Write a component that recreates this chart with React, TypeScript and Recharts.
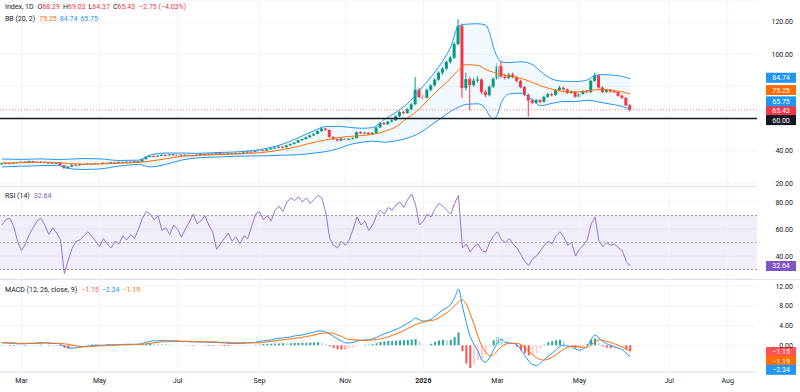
import React from 'react';
import {
  ComposedChart,
  Bar,
  Line,
  Area,
  XAxis,
  YAxis,
  CartesianGrid,
  ReferenceLine,
  ReferenceArea,
  Cell,
} from 'recharts';

// Candles, Feb 2025 – Jun 2026 (each candle = two sessions)
const opens = [
  31.8, 32.1, 32.4, 32.0, 32.6, 32.9, 33.3, 33.0, 33.6, 33.2,
  32.8, 33.1, 32.5, 32.7, 32.2, 32.4, 31.0, 29.4, 30.2, 31.3,
  31.0, 31.8, 31.6, 32.1, 31.9, 32.3, 32.2, 32.6, 32.4, 32.9,
  32.7, 33.1, 32.8, 33.3, 33.0, 33.5, 33.2, 34.8, 36.2, 36.8,
  36.4, 37.0, 37.5, 37.2, 37.8, 37.4, 37.6, 37.1, 37.5, 37.2,
  37.0, 37.6, 38.0, 37.7, 38.3, 38.0, 38.6, 38.2, 38.0, 38.5,
  38.1, 38.7, 38.4, 39.0, 39.5, 39.2, 39.8, 40.4, 40.1, 40.9,
  41.5, 42.0, 42.6, 42.2, 43.4, 44.2, 45.1, 46.6, 47.3, 48.4,
  49.6, 50.5, 52.2, 53.8, 53.0, 48.6, 47.2, 46.3, 47.5, 46.8,
  47.4, 47.9, 51.6, 50.8, 51.3, 50.4, 51.2, 54.5, 57.2, 56.5,
  58.1, 58.9, 61.5, 64.0, 63.4, 65.8, 68.9, 78.0, 73.4, 73.0,
  77.9, 80.6, 84.2, 88.5, 91.0, 95.2, 97.8, 106.3, 117.5, 79.0,
  84.5, 80.8, 83.6, 84.3, 76.5, 74.6, 79.8, 84.7, 92.5, 86.0,
  85.2, 87.4, 85.8, 83.4, 79.6, 74.8, 71.2, 69.8, 71.5, 70.4,
  73.5, 75.2, 74.6, 77.8, 79.2, 78.1, 75.9, 76.8, 73.6, 75.4,
  77.0, 76.4, 83.5, 86.8, 79.3, 76.6, 77.9, 76.8, 76.5, 74.2,
  72.9, 68.29,
];
const highs = [
  32.5, 32.7, 32.6, 32.8, 33.2, 33.7, 33.5, 33.9, 33.8, 33.4,
  33.4, 33.2, 33.0, 32.9, 32.7, 32.5, 31.2, 30.5, 31.6, 31.5,
  32.0, 32.0, 32.3, 32.2, 32.5, 32.5, 32.8, 32.7, 33.1, 33.0,
  33.3, 33.2, 33.5, 33.4, 33.7, 33.6, 35.0, 36.5, 37.1, 37.0,
  37.2, 37.8, 37.7, 38.0, 37.9, 37.9, 37.7, 37.7, 37.6, 37.3,
  37.8, 38.2, 38.1, 38.5, 38.4, 38.8, 38.7, 38.3, 38.7, 38.6,
  38.9, 38.8, 39.2, 39.7, 39.6, 40.0, 40.6, 40.5, 41.1, 41.7,
  42.3, 42.9, 42.8, 43.7, 44.5, 45.4, 46.9, 47.6, 48.8, 50.0,
  50.9, 52.6, 54.6, 54.2, 53.2, 49.1, 47.6, 47.9, 47.8, 47.8,
  48.3, 52.0, 52.1, 51.7, 51.5, 51.6, 54.9, 57.7, 57.9, 58.6,
  59.6, 62.0, 64.6, 64.9, 66.4, 69.6, 85.8, 79.2, 75.0, 78.6,
  81.4, 85.0, 89.4, 92.0, 96.0, 99.0, 107.5, 121.7, 119.0, 88.6,
  86.0, 85.4, 86.2, 85.0, 78.0, 80.6, 85.6, 94.5, 96.2, 88.0,
  88.3, 88.6, 86.5, 84.0, 80.2, 75.6, 72.4, 72.3, 72.0, 74.2,
  76.0, 76.2, 78.4, 80.4, 79.8, 78.6, 77.6, 77.2, 76.0, 77.6,
  77.8, 84.2, 88.5, 87.2, 80.0, 78.5, 78.3, 77.8, 77.0, 75.0,
  73.4, 69.03,
];
const lows = [
  31.6, 31.9, 31.7, 31.9, 32.4, 32.7, 32.8, 32.9, 33.0, 32.6,
  32.6, 32.3, 32.3, 32.0, 32.0, 30.7, 28.7, 29.1, 30.0, 30.7,
  30.9, 31.3, 31.5, 31.7, 31.8, 32.0, 32.1, 32.2, 32.3, 32.5,
  32.6, 32.6, 32.7, 32.8, 32.9, 33.0, 33.1, 34.6, 36.0, 36.1,
  36.3, 36.9, 37.0, 37.1, 37.2, 37.3, 36.9, 37.0, 37.0, 36.8,
  36.9, 37.5, 37.5, 37.6, 37.8, 37.9, 38.0, 37.8, 37.9, 37.9,
  38.0, 38.2, 38.3, 38.9, 39.0, 39.1, 39.7, 39.9, 40.0, 40.8,
  41.3, 41.8, 41.9, 42.1, 43.2, 44.0, 44.9, 46.2, 47.0, 48.1,
  49.2, 50.3, 52.0, 52.4, 48.2, 46.8, 45.9, 46.1, 46.5, 46.6,
  47.0, 47.7, 50.4, 50.5, 49.8, 50.1, 51.0, 54.2, 56.0, 56.2,
  57.6, 58.5, 61.0, 62.6, 63.0, 65.3, 68.2, 72.6, 71.8, 72.5,
  77.0, 80.0, 83.5, 87.2, 90.2, 94.0, 97.0, 105.5, 72.8, 77.5,
  65.3, 79.6, 82.4, 75.2, 73.4, 73.8, 79.0, 84.0, 85.4, 84.2,
  84.6, 85.0, 82.6, 78.8, 73.9, 61.2, 68.8, 69.2, 69.5, 70.0,
  72.9, 73.8, 74.2, 77.2, 77.4, 75.2, 75.3, 73.0, 73.1, 74.8,
  75.8, 76.0, 82.8, 78.6, 75.9, 76.0, 76.1, 76.0, 73.6, 72.3,
  67.8, 64.37,
];
const closes = [
  32.1, 32.4, 32.0, 32.6, 32.9, 33.3, 33.0, 33.6, 33.2, 32.8,
  33.1, 32.5, 32.7, 32.2, 32.4, 31.0, 29.4, 30.2, 31.3, 31.0,
  31.8, 31.6, 32.1, 31.9, 32.3, 32.2, 32.6, 32.4, 32.9, 32.7,
  33.1, 32.8, 33.3, 33.0, 33.5, 33.2, 34.8, 36.2, 36.8, 36.4,
  37.0, 37.5, 37.2, 37.8, 37.4, 37.6, 37.1, 37.5, 37.2, 37.0,
  37.6, 38.0, 37.7, 38.3, 38.0, 38.6, 38.2, 38.0, 38.5, 38.1,
  38.7, 38.4, 39.0, 39.5, 39.2, 39.8, 40.4, 40.1, 40.9, 41.5,
  42.0, 42.6, 42.2, 43.4, 44.2, 45.1, 46.6, 47.3, 48.4, 49.6,
  50.5, 52.2, 53.8, 53.0, 48.6, 47.2, 46.3, 47.5, 46.8, 47.4,
  47.9, 51.6, 50.8, 51.3, 50.4, 51.2, 54.5, 57.2, 56.5, 58.1,
  58.9, 61.5, 64.0, 63.4, 65.8, 68.9, 78.0, 73.4, 73.0, 77.9,
  80.6, 84.2, 88.5, 91.0, 95.2, 97.8, 106.3, 117.5, 79.0, 84.5,
  80.8, 83.6, 84.3, 76.5, 74.6, 79.8, 84.7, 92.5, 86.0, 85.2,
  87.4, 85.8, 83.4, 79.6, 74.8, 71.2, 69.8, 71.5, 70.4, 73.5,
  75.2, 74.6, 77.8, 79.2, 78.1, 75.9, 76.8, 73.6, 75.4, 77.0,
  76.4, 83.5, 86.8, 79.3, 76.6, 77.9, 76.8, 76.5, 74.2, 72.9,
  68.18, 65.43,
];

// Bollinger Bands (20, 2), sampled at these candle indices
const bbAt = [
  0, 5, 10, 14, 17, 21, 25, 30, 35, 38,
  42, 46, 50, 55, 60, 64, 68, 72, 76, 80,
  83, 86, 89, 92, 95, 98, 101, 104, 107, 110,
  113, 115, 117, 119, 122, 124, 125, 126, 127, 128,
  130, 133, 136, 138, 141, 144, 147, 150, 152, 154,
  157, 159, 161,
];
const bbUpper = [
  34.9, 34.7, 35.0, 34.6, 34.8, 35.2, 35.0, 34.0, 34.2, 37.4,
  38.6, 38.6, 38.4, 38.9, 39.3, 40.1, 41.6, 44.2, 48.2, 52.4,
  55.1, 55.2, 54.6, 54.0, 54.4, 59.5, 64.0, 69.5, 77.5, 86.0,
  96.0, 104.5, 117.5, 118.6, 118.9, 118.0, 113.0, 104.0, 98.0, 95.2,
  94.8, 95.3, 93.5, 89.5, 84.5, 83.2, 83.0, 84.0, 86.8, 87.3,
  86.9, 86.2, 84.74,
];
const bbMiddle = [
  32.4, 32.6, 32.9, 32.8, 32.1, 31.7, 31.8, 32.3, 32.8, 33.6,
  35.0, 36.6, 37.1, 37.6, 38.0, 38.5, 39.3, 40.8, 42.8, 45.3,
  46.8, 48.1, 48.9, 49.4, 50.2, 52.0, 55.0, 60.5, 66.0, 73.6,
  80.5, 85.0, 90.2, 93.5, 93.0, 90.5, 89.5, 88.8, 88.0, 87.4,
  86.3, 85.0, 82.4, 80.5, 78.2, 76.8, 76.4, 77.2, 77.9, 78.0,
  77.4, 76.6, 75.25,
];
const bbLower = [
  30.0, 30.4, 30.8, 31.0, 29.0, 28.4, 28.7, 30.5, 31.5, 30.0,
  31.6, 34.2, 35.6, 36.1, 36.6, 36.8, 36.9, 37.3, 37.6, 38.6,
  39.5, 41.2, 43.8, 45.2, 46.0, 45.3, 46.2, 48.0, 51.0, 56.0,
  61.0, 64.5, 67.0, 68.8, 69.2, 65.8, 61.5, 59.8, 62.5, 70.0,
  75.3, 75.8, 71.5, 68.0, 69.5, 70.6, 70.6, 71.4, 70.8, 69.8,
  68.6, 67.5, 65.75,
];

// RSI (14)
const rsi = [
  63, 67, 68, 62, 51, 44, 49, 56, 61, 66,
  68, 63, 56, 61, 57, 52, 27, 37, 46, 51,
  52, 55, 58, 55, 51, 47, 53, 49, 46, 51,
  49, 55, 52, 56, 53, 60, 68, 73, 71, 67,
  70, 59, 61, 56, 63, 60, 54, 60, 65, 71,
  64, 66, 70, 63, 58, 45, 49, 53, 57, 51,
  54, 49, 55, 53, 62, 71, 73, 67, 70, 66,
  74, 77, 73, 80, 83, 81, 84, 80, 83, 79,
  82, 85, 83, 72, 53, 48, 46, 51, 48, 52,
  60, 69, 63, 66, 59, 63, 70, 74, 71, 76,
  74, 78, 80, 76, 82, 86, 78, 63, 66, 71,
  69, 75, 79, 77, 74, 71, 79, 85, 46, 49,
  43, 47, 49, 44, 43, 50, 55, 58, 52, 50,
  53, 49, 46, 41, 36, 33, 38, 40, 44, 48,
  51, 49, 55, 58, 54, 48, 50, 40, 45, 48,
  52, 64, 69, 51, 47, 50, 48, 49, 46, 44,
  36, 32.64,
];

// MACD (12, 26, close, 9)
const macdLine = [
  0.5, 0.5, 0.4, 0.4, 0.3, 0.3, 0.3, 0.4, 0.4, 0.5,
  0.5, 0.5, 0.4, 0.4, 0.4, 0.2, -0.2, -0.5, -0.6, -0.5,
  -0.4, -0.3, -0.2, -0.1, 0.0, 0.0, 0.0, 0.1, 0.1, 0.1,
  0.1, 0.2, 0.2, 0.2, 0.2, 0.2, 0.4, 0.6, 0.8, 0.9,
  0.9, 1.0, 1.0, 0.9, 0.9, 0.9, 0.8, 0.8, 0.7, 0.7,
  0.7, 0.7, 0.7, 0.6, 0.6, 0.6, 0.5, 0.5, 0.4, 0.4,
  0.4, 0.4, 0.4, 0.5, 0.5, 0.6, 0.8, 0.9, 1.0, 1.1,
  1.3, 1.4, 1.5, 1.6, 1.7, 1.9, 2.0, 2.1, 2.3, 2.5,
  2.7, 2.9, 2.9, 2.7, 2.3, 1.8, 1.3, 0.9, 0.5, 0.5,
  0.6, 0.9, 1.0, 1.1, 1.1, 1.3, 1.6, 2.0, 2.3, 2.6,
  2.9, 3.2, 3.6, 4.0, 4.5, 5.0, 5.5, 5.2, 4.9, 5.0,
  5.3, 5.9, 6.6, 7.2, 7.6, 8.3, 9.6, 11.4, 8.0, 4.6,
  1.8, 0.2, -1.2, -3.0, -3.4, -2.4, -0.9, 0.6, 1.2, 0.6,
  0.5, 0.4, 0.1, -0.9, -2.1, -3.2, -3.9, -4.1, -3.6, -2.9,
  -2.2, -1.6, -0.9, -0.2, 0.0, -0.2, -0.3, -0.8, -1.0, -0.7,
  -0.2, 1.2, 2.1, 1.5, 0.8, 0.3, 0.0, -0.3, -0.6, -0.9,
  -1.6, -2.34,
];
const signalLine = [
  0.5, 0.5, 0.5, 0.5, 0.4, 0.4, 0.4, 0.4, 0.4, 0.4,
  0.4, 0.5, 0.5, 0.4, 0.4, 0.4, 0.3, 0.2, 0.0, -0.1,
  -0.2, -0.3, -0.3, -0.2, -0.2, -0.1, -0.1, 0.0, 0.0, 0.0,
  0.1, 0.1, 0.1, 0.1, 0.2, 0.2, 0.2, 0.3, 0.4, 0.5,
  0.6, 0.7, 0.7, 0.8, 0.8, 0.8, 0.8, 0.8, 0.8, 0.8,
  0.7, 0.7, 0.7, 0.7, 0.7, 0.7, 0.6, 0.6, 0.6, 0.5,
  0.5, 0.5, 0.5, 0.5, 0.5, 0.5, 0.5, 0.6, 0.7, 0.8,
  0.9, 1.0, 1.1, 1.2, 1.3, 1.4, 1.5, 1.6, 1.8, 1.9,
  2.1, 2.3, 2.4, 2.5, 2.5, 2.4, 2.1, 1.8, 1.4, 1.2,
  1.1, 1.1, 1.0, 1.0, 1.0, 1.1, 1.2, 1.3, 1.5, 1.7,
  2.0, 2.3, 2.6, 3.0, 3.4, 3.8, 4.2, 4.5, 4.7, 4.9,
  5.0, 5.2, 5.6, 6.1, 6.6, 7.2, 8.0, 8.8, 9.2, 8.3,
  6.4, 4.2, 1.8, -0.2, -1.4, -2.1, -1.9, -1.1, -0.3, 0.2,
  0.4, 0.4, 0.4, 0.1, -0.5, -1.2, -1.9, -2.5, -2.9, -3.0,
  -2.8, -2.4, -1.9, -1.3, -0.8, -0.4, -0.2, -0.2, -0.3, -0.4,
  -0.4, 0.1, 0.7, 1.1, 1.0, 0.8, 0.6, 0.3, 0.0, -0.4,
  -0.8, -1.19,
];
const histogram = [
  0.05, 0.02, -0.08, -0.12, -0.1, -0.06, -0.09, 0.03, 0.02, 0.08,
  0.09, 0.03, -0.07, -0.02, -0.04, -0.22, -0.48, -0.66, -0.58, -0.41,
  -0.21, 0.02, 0.12, 0.14, 0.17, 0.13, 0.1, 0.09, 0.07, 0.06,
  0.03, 0.06, 0.08, 0.05, 0.02, 0.03, 0.18, 0.3, 0.38, 0.36,
  0.31, 0.27, 0.24, 0.14, 0.1, 0.07, 0.02, -0.03, -0.06, -0.08,
  -0.04, -0.03, -0.05, -0.08, -0.1, -0.09, -0.11, -0.12, -0.14, -0.11,
  -0.1, -0.08, -0.06, -0.02, 0.03, 0.09, 0.22, 0.28, 0.3, 0.31,
  0.36, 0.38, 0.4, 0.39, 0.42, 0.46, 0.48, 0.5, 0.52, 0.56,
  0.58, 0.6, 0.52, 0.24, -0.18, -0.55, -0.78, -0.88, -0.9, -0.72,
  -0.5, -0.22, 0.02, 0.1, 0.12, 0.2, 0.4, 0.66, 0.78, 0.86,
  0.88, 0.9, 0.96, 1.02, 1.08, 1.16, 1.28, 0.72, 0.22, 0.12,
  0.3, 0.68, 0.98, 1.12, 1.02, 1.14, 1.62, 2.58, -1.2, -3.7,
  -4.6, -4.0, -3.0, -2.8, -2.0, -0.3, 1.0, 1.7, 1.5, 0.4,
  0.12, 0.02, -0.3, -1.0, -1.6, -2.0, -2.0, -1.6, -0.7, 0.1,
  0.6, 0.8, 1.0, 1.1, 0.8, 0.2, -0.1, -0.6, -0.7, -0.3,
  0.2, 1.1, 1.4, 0.4, -0.2, -0.5, -0.6, -0.6, -0.6, -0.5,
  -0.8, -1.15,
];

// time axis: slot index of each month label
const monthSlots = [5, 25, 45, 66, 88, 108, 127, 148, 171, 186];
const monthNames = ['Mar', 'May', 'Jul', 'Sep', 'Nov', '2026', 'Mar', 'May', 'Jul', 'Aug'];

const levelLine = 60;

const SLOTS = 194;
const WIDTH = 800;
const AXIS_W = 43;
const FONT = 'Roboto, "Noto Sans", sans-serif';

const UP = '#089981';
const DOWN = '#F23645';
const BLUE = '#2196F3';
const ORANGE = '#FF6D00';
const PURPLE = '#7E57C2';
const RSI_LINE = '#9575CD';
const GRID = '#f0f3fa';
const TEXT = '#131722';
const SEP = '#e0e3eb';

const rows = Array.from({ length: SLOTS }, (_, i) => {
  const row: any = { i };
  if (i < closes.length) {
    row.o = opens[i];
    row.h = highs[i];
    row.l = lows[i];
    row.c = closes[i];
    row.range = [lows[i], highs[i]];
    row.rsi = rsi[i];
    row.macd = macdLine[i];
    row.signal = signalLine[i];
    row.hist = histogram[i];
  }
  const b = bbAt.indexOf(i);
  if (b >= 0) {
    row.bbU = bbUpper[b];
    row.bbM = bbMiddle[b];
    row.bbL = bbLower[b];
    row.band = [bbLower[b], bbUpper[b]];
  }
  return row;
});

const histColor = (k: number) => {
  const v = histogram[k];
  const prev = k > 0 ? histogram[k - 1] : v;
  if (v >= 0) return v >= prev ? '#26A69A' : '#B2DFDB';
  return v < prev ? '#FF5252' : '#FFCDD2';
};

const last = closes.length - 1;
const change = closes[last] - closes[last - 1];
const changePct = (change / closes[last - 1]) * 100;
const fmt = (v: number) => v.toFixed(2);
const fmtSigned = (v: number) => (v < 0 ? '\u2212' + Math.abs(v).toFixed(2) : v.toFixed(2));

const Candle = (props: any) => {
  const { x, y, width, height, payload } = props;
  if (!payload || payload.o == null) return null;
  const { o, h, l, c } = payload;
  const top = Math.min(y, y + height);
  const span = Math.abs(height);
  const toY = (v: number) => top + ((h - v) / (h - l || 1)) * span;
  const color = c >= o ? UP : DOWN;
  const cx = x + width / 2;
  const bodyTop = toY(Math.max(o, c));
  const bodyH = Math.max(1, toY(Math.min(o, c)) - bodyTop);
  return (
    <g>
      <line x1={cx} x2={cx} y1={top} y2={top + span} stroke={color} strokeWidth={1} />
      <rect x={x} y={bodyTop} width={width} height={bodyH} fill={color} />
    </g>
  );
};

const Tag = ({ viewBox, text, color, shift = 0 }: any) => {
  if (!viewBox) return null;
  const x = viewBox.x + viewBox.width + 9;
  const y = viewBox.y + shift;
  return (
    <g>
      <rect x={x} y={y - 5} width={30} height={10} fill={color} />
      <text x={x + 15} y={y + 2.5} fontSize={7} fill="#ffffff" textAnchor="middle">
        {text}
      </text>
    </g>
  );
};

const AxisTick = ({ x, y, payload, skip = [] }: any) =>
  skip.includes(payload.value) ? (
    <g />
  ) : (
    <text x={x + 28} y={y + 2.5} fontSize={7} fill={TEXT} textAnchor="end">
      {fmt(payload.value)}
    </text>
  );

const MonthTick = ({ x, y, payload }: any) => {
  const k = monthSlots.indexOf(payload.value);
  if (k < 0) return <g />;
  const name = monthNames[k];
  return (
    <text x={x} y={y + 3} fontSize={7} fill={TEXT} textAnchor="middle" fontWeight={name === '2026' ? 700 : 400}>
      {name}
    </text>
  );
};

const monthGrid = () =>
  monthSlots.map((s) => <ReferenceLine key={'m' + s} x={s} stroke={GRID} strokeWidth={1} />);

const margin = { top: 0, right: 0, bottom: 0, left: 0 };

const Legend: React.FC<{ top: number; children: React.ReactNode }> = ({ top, children }) => (
  <div
    style={{
      position: 'absolute',
      left: 5,
      top,
      fontSize: 7,
      lineHeight: '9px',
      color: TEXT,
      whiteSpace: 'nowrap',
    }}
  >
    {children}
  </div>
);

const Val: React.FC<{ color: string; children: React.ReactNode; gap?: number }> = ({ color, children, gap = 3 }) => (
  <span style={{ color, marginLeft: gap }}>{children}</span>
);

const lineProps = {
  dot: false,
  activeDot: false,
  strokeWidth: 1,
  isAnimationActive: false,
} as const;

export default function App() {
  return (
    <div
      style={{
        position: 'absolute',
        left: 0,
        top: 0,
        width: WIDTH,
        height: 392,
        background: '#ffffff',
        fontFamily: FONT,
        overflow: 'hidden',
      }}
    >
      {/* price pane; the extra bottom margin leaves room for the lowest axis label */}
      <ComposedChart width={WIDTH} height={189} data={rows} margin={{ ...margin, bottom: 3 }}>
        <CartesianGrid vertical={false} stroke={GRID} />
        {monthGrid()}
        <XAxis dataKey="i" scale="band" hide />
        <YAxis
          orientation="right"
          width={AXIS_W}
          domain={[18.14, 133.66]}
          ticks={[20, 40, 60, 80, 100, 120]}
          interval={0}
          allowDataOverflow
          axisLine={false}
          tickLine={false}
          tick={<AxisTick skip={[60, 80]} />}
        />
        <Area
          dataKey="band"
          type="monotone"
          connectNulls
          stroke="none"
          fill={BLUE}
          fillOpacity={0.06}
          dot={false}
          activeDot={false}
          isAnimationActive={false}
        />
        <Line dataKey="bbU" type="monotone" connectNulls stroke={BLUE} {...lineProps} />
        <Line dataKey="bbL" type="monotone" connectNulls stroke={BLUE} {...lineProps} />
        <Line dataKey="bbM" type="monotone" connectNulls stroke={ORANGE} {...lineProps} />
        <Bar dataKey="range" barSize={3} shape={<Candle />} activeBar={false} isAnimationActive={false} />
        <ReferenceLine
          y={closes[last]}
          stroke={DOWN}
          strokeOpacity={0.6}
          strokeDasharray="1 2"
          label={<Tag text={fmt(closes[last])} color={DOWN} shift={1} />}
        />
        <ReferenceLine
          y={levelLine}
          stroke={TEXT}
          strokeWidth={1.5}
          label={<Tag text={fmt(levelLine)} color={TEXT} shift={1.5} />}
        />
        <ReferenceLine y={bbUpper[bbUpper.length - 1]} stroke="none" label={<Tag text={fmt(bbUpper[bbUpper.length - 1])} color={BLUE} shift={-1} />} />
        <ReferenceLine y={bbMiddle[bbMiddle.length - 1]} stroke="none" label={<Tag text={fmt(bbMiddle[bbMiddle.length - 1])} color={ORANGE} shift={-4} />} />
        <ReferenceLine y={bbLower[bbLower.length - 1]} stroke="none" label={<Tag text={fmt(bbLower[bbLower.length - 1])} color={BLUE} shift={-8} />} />
      </ComposedChart>

      {/* RSI pane */}
      <div style={{ position: 'absolute', left: 0, top: 186 }}>
        <ComposedChart width={WIDTH} height={93} data={rows} margin={margin}>
          <CartesianGrid vertical={false} stroke={GRID} />
          {monthGrid()}
          <XAxis dataKey="i" scale="band" hide />
          <YAxis
            orientation="right"
            width={AXIS_W}
            domain={[23.0, 91.9]}
            ticks={[40, 60, 80]}
            interval={0}
            allowDataOverflow
            axisLine={false}
            tickLine={false}
            tick={<AxisTick />}
          />
          <ReferenceArea y1={30} y2={70} fill={PURPLE} fillOpacity={0.1} stroke="none" />
          <ReferenceLine y={70} stroke="#787B86" strokeOpacity={0.8} strokeDasharray="2 2" />
          <ReferenceLine y={50} stroke="#787B86" strokeOpacity={0.6} strokeDasharray="2 2" />
          <ReferenceLine y={30} stroke="#787B86" strokeOpacity={0.8} strokeDasharray="2 2" />
          <Line dataKey="rsi" type="linear" stroke={RSI_LINE} {...lineProps} />
          <ReferenceLine y={rsi[last]} stroke="none" label={<Tag text={fmt(rsi[last])} color={PURPLE} />} />
        </ComposedChart>
      </div>

      {/* MACD pane with the time axis */}
      <div style={{ position: 'absolute', left: 0, top: 279 }}>
        <ComposedChart width={WIDTH} height={113} data={rows} margin={margin}>
          <CartesianGrid vertical={false} stroke={GRID} />
          {monthGrid()}
          <XAxis
            dataKey="i"
            scale="band"
            height={20}
            ticks={monthSlots}
            interval={0}
            tick={<MonthTick />}
            tickLine={false}
            axisLine={{ stroke: SEP }}
          />
          <YAxis
            orientation="right"
            width={AXIS_W}
            domain={[-5.42, 13.45]}
            ticks={[0, 4, 8, 12]}
            interval={0}
            allowDataOverflow
            axisLine={false}
            tickLine={false}
            tick={<AxisTick />}
          />
          <Bar dataKey="hist" barSize={2} activeBar={false} isAnimationActive={false}>
            {rows.map((r, k) => (
              <Cell key={k} fill={r.hist != null ? histColor(k) : 'transparent'} />
            ))}
          </Bar>
          <Line dataKey="macd" type="monotone" stroke={BLUE} {...lineProps} />
          <Line dataKey="signal" type="monotone" stroke={ORANGE} {...lineProps} />
          <ReferenceLine y={histogram[last]} stroke="none" label={<Tag text={fmtSigned(histogram[last])} color="#FF5252" shift={1} />} />
          <ReferenceLine y={signalLine[last]} stroke="none" label={<Tag text={fmtSigned(signalLine[last])} color={ORANGE} shift={10} />} />
          <ReferenceLine y={macdLine[last]} stroke="none" label={<Tag text={fmtSigned(macdLine[last])} color={BLUE} shift={13} />} />
        </ComposedChart>
      </div>

      {/* pane separators */}
      <div style={{ position: 'absolute', left: 0, top: 186, width: WIDTH - AXIS_W, height: 1, background: SEP }} />
      <div style={{ position: 'absolute', left: 0, top: 279, width: WIDTH, height: 1, background: SEP }} />

      <Legend top={3}>
        <span>Index, 1D</span>
        <span style={{ marginLeft: 4 }}>O</span>
        <span style={{ color: DOWN }}>{fmt(opens[last])}</span>
        <span style={{ marginLeft: 3 }}>H</span>
        <span style={{ color: DOWN }}>{fmt(highs[last])}</span>
        <span style={{ marginLeft: 3 }}>L</span>
        <span style={{ color: DOWN }}>{fmt(lows[last])}</span>
        <span style={{ marginLeft: 3 }}>C</span>
        <span style={{ color: DOWN }}>{fmt(closes[last])}</span>
        <Val color={DOWN} gap={4}>
          {fmtSigned(change)} ({fmtSigned(changePct)}%)
        </Val>
      </Legend>
      <Legend top={15}>
        <span>BB (20, 2)</span>
        <Val color={ORANGE} gap={4}>{fmt(bbMiddle[bbMiddle.length - 1])}</Val>
        <Val color={BLUE}>{fmt(bbUpper[bbUpper.length - 1])}</Val>
        <Val color={BLUE}>{fmt(bbLower[bbLower.length - 1])}</Val>
      </Legend>
      <Legend top={192}>
        <span>RSI (14)</span>
        <Val color={PURPLE} gap={4}>{fmt(rsi[last])}</Val>
      </Legend>
      <Legend top={286}>
        <span>MACD (12, 26, close, 9)</span>
        <Val color="#FF5252" gap={4}>{fmtSigned(histogram[last])}</Val>
        <Val color={BLUE}>{fmtSigned(macdLine[last])}</Val>
        <Val color={ORANGE}>{fmtSigned(signalLine[last])}</Val>
      </Legend>
    </div>
  );
}
